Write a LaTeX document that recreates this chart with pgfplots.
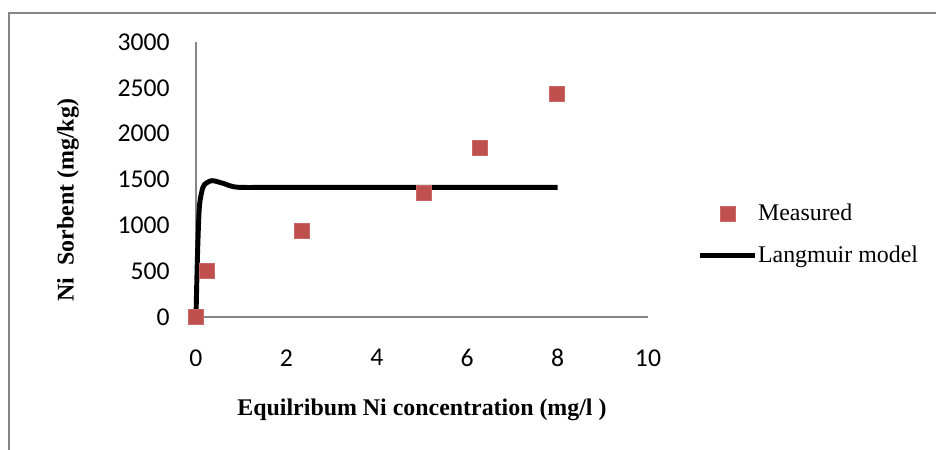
\documentclass[border=0pt]{standalone}
\usepackage{pgfplots}
\pgfplotsset{compat=1.18}
\usepackage{fontspec}
\setmainfont{Liberation Serif}
\newfontfamily\tickfont{Carlito}

\definecolor{measred}{HTML}{C0504D}
\definecolor{axgray}{HTML}{868686}

\pgfplotsset{
  markleg/.style={legend image code/.code={\draw[mark repeat=2,mark phase=2,##1]
      plot coordinates {(0cm,0cm) (0.55cm,0cm) (1.1cm,0cm)};}},
  lineleg/.style={legend image code/.code={\draw[##1] (0cm,0cm) -- (1.1cm,0cm);}},
}

\begin{document}
\begin{tikzpicture}
  \useasboundingbox (0,0) rectangle (18.72cm,9cm);
  % outer chart frame (only left and top edges are visible)
  \draw[axgray, line width=1pt] (0.18cm,0) -- (0.18cm,8.74cm) -- (18.72cm,8.74cm);
  \begin{axis}[
      at={(3.92cm,2.66cm)}, anchor=south west,
      scale only axis,
      width=9.04cm, height=5.5cm,
      xmin=0, xmax=10, ymin=0, ymax=3000,
      axis x line*=bottom, axis y line*=left,
      axis line style={axgray, line width=0.85pt},
      xtick={0,2,...,10}, ytick={0,500,...,3000},
      major tick length=0pt,
      /pgf/number format/assume math mode=true,
      /pgf/number format/1000 sep={},
      tick label style={font=\tickfont\fontsize{14.6}{16}\selectfont, inner sep=0pt},
      yticklabel style={anchor=east, xshift=-0.52cm},
      xticklabel style={anchor=north, yshift=-0.64cm},
      xlabel={Equilribum Ni concentration (mg/l )},
      ylabel={Ni\ \ Sorbent (mg/kg)},
      label style={font=\bfseries\fontsize{13.6}{15}\selectfont},
      xlabel style={at={(axis description cs:0.5,-0.338)}, anchor=center},
      ylabel style={at={(axis description cs:-0.283,0.425)}, anchor=center},
      clip=false,
      legend style={
        at={(axis description cs:1.109,0.3)}, anchor=west,
        draw=none, fill=none, inner sep=0pt,
        font=\fontsize{13.6}{15}\selectfont,
        row sep=9pt,
        /tikz/every odd column/.append style={column sep=-0.06cm},
      },
      legend cell align=left,
    ]
    \addplot[only marks, mark=square*, mark size=4.3pt,
      mark options={fill=measred, draw=measred!85!white}, markleg]
      coordinates {(0,0) (0.24,502) (2.35,938) (5.04,1353) (6.28,1844) (7.99,2433)};
    \addlegendentry{Measured}
    \addplot[black, line width=2.8pt, smooth, tension=0.5, no marks, lineleg]
      coordinates {(0,0) (0.03,622) (0.07,1167) (0.12,1349) (0.18,1440)
        (0.35,1487) (0.6,1458) (0.94,1415) (2,1415) (8,1415)};
    \addlegendentry{Langmuir model}
  \end{axis}
\end{tikzpicture}
\end{document}
